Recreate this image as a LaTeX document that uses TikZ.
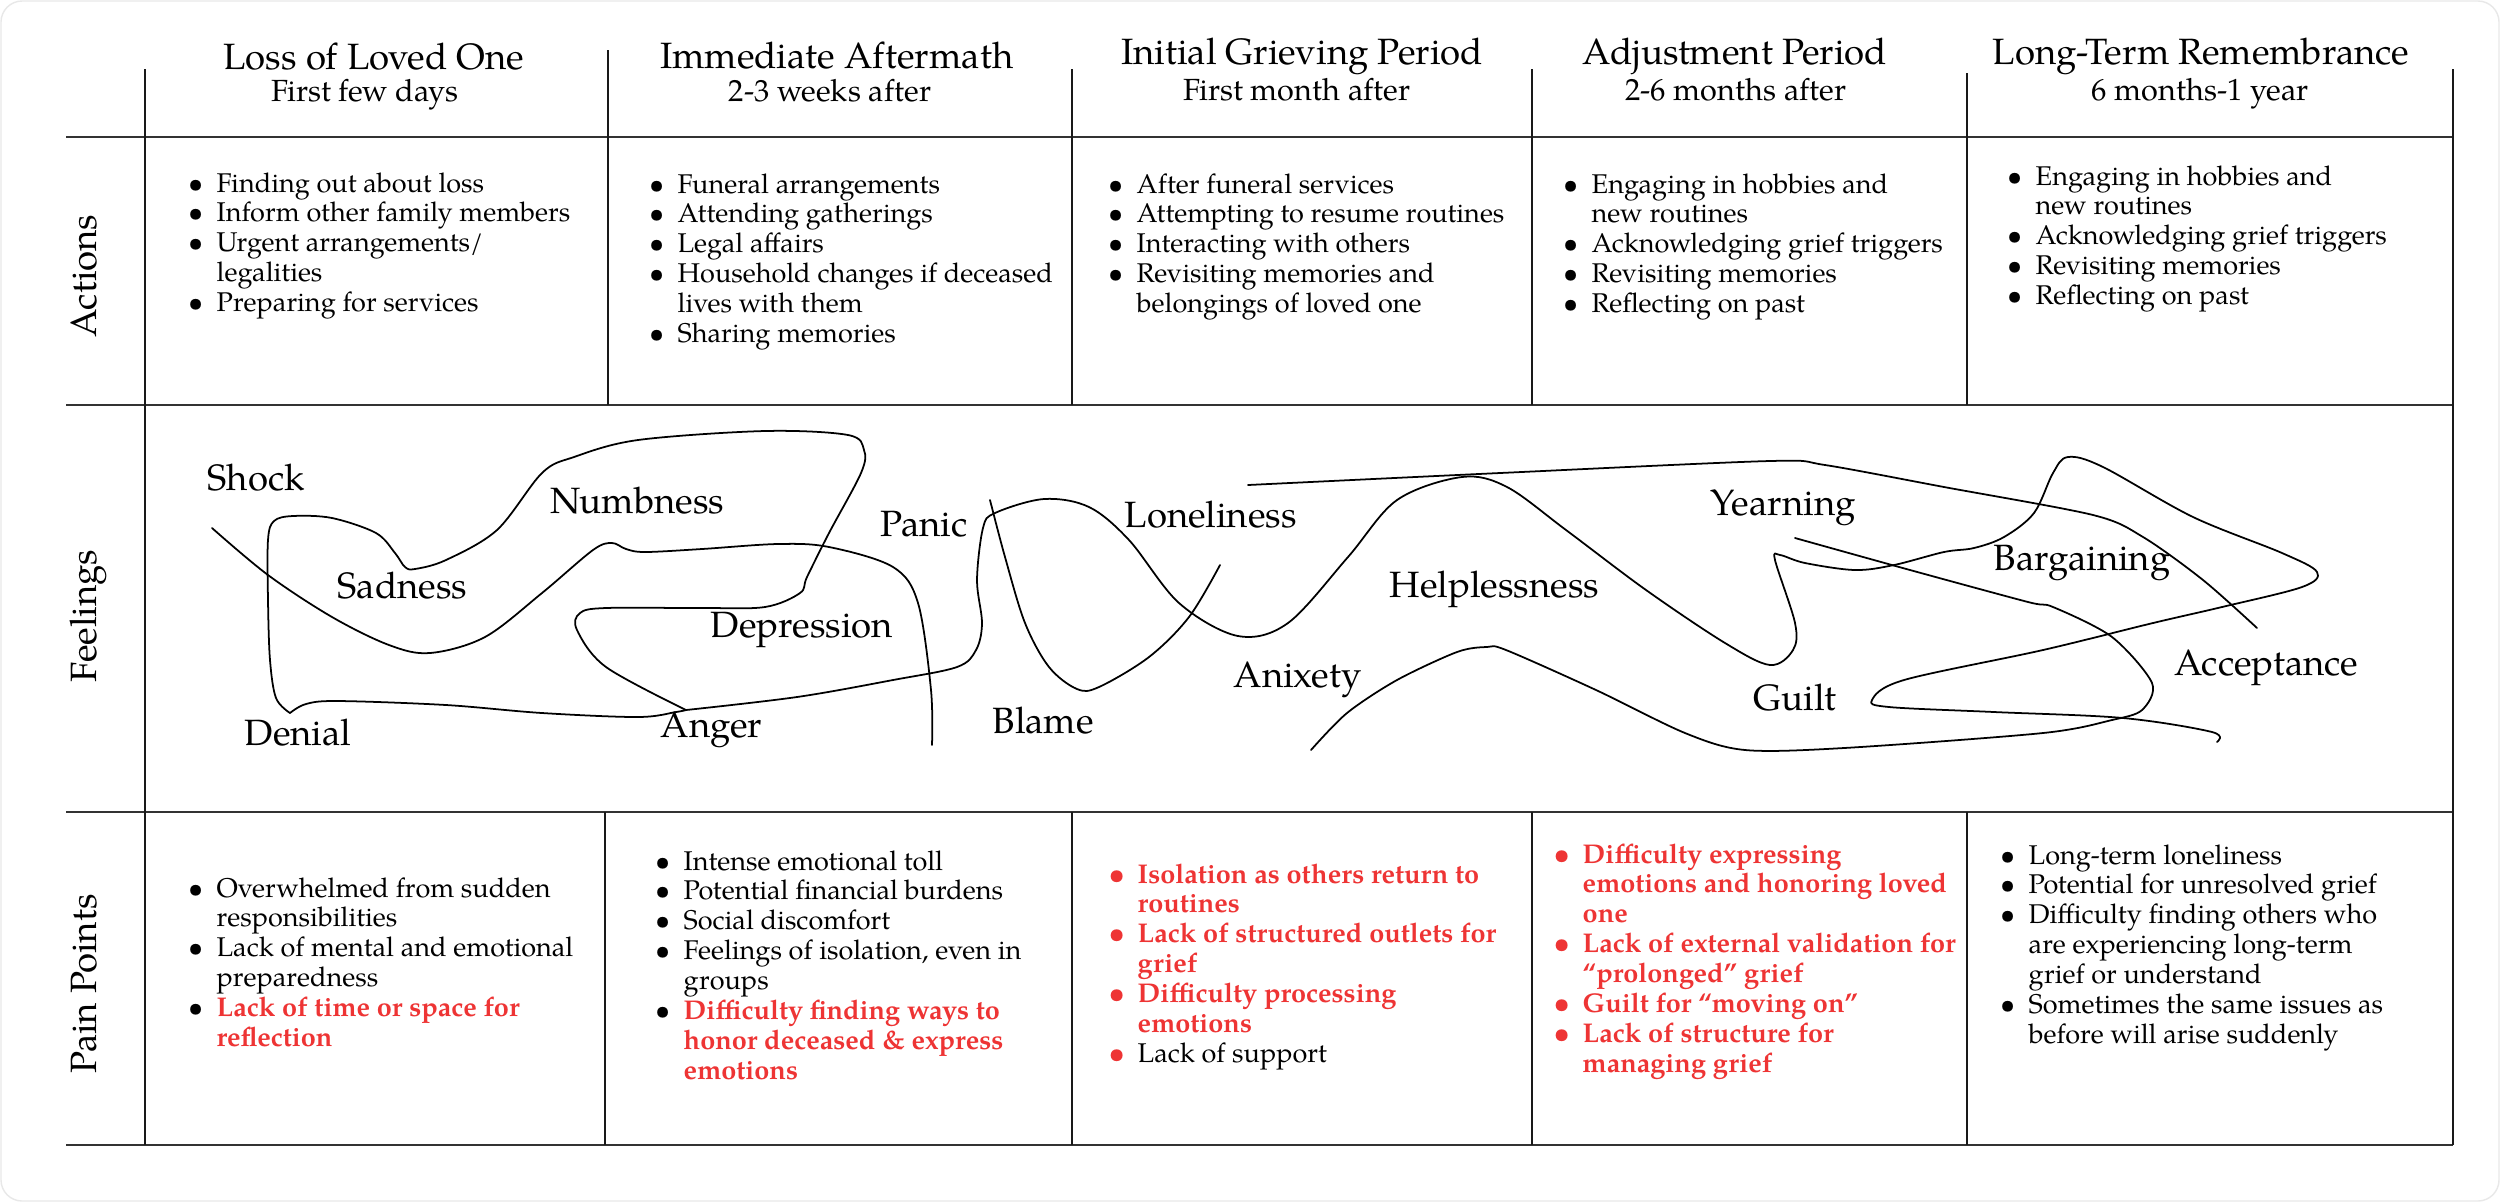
\documentclass[tikz,border=0pt]{standalone}
\usepackage{fontspec}
\setmainfont{texgyrepagella}[Extension=.otf, UprightFont=*-regular, BoldFont=*-bold, ItalicFont=*-italic, BoldItalicFont=*-bolditalic]
\definecolor{painred}{RGB}{238,52,52}
\definecolor{gridc}{RGB}{51,51,51}
\newcommand\bu{\llap{\makebox[0pt][c]{\textbullet}\hspace{5.97pt}}}
\newcommand\rbu{\llap{\makebox[0pt][c]{\textcolor{painred}{\bfseries\textbullet}}\hspace{5.97pt}}}
\newcommand\rd[1]{\textcolor{painred}{\bfseries #1}}
\newcommand\cellt[1]{\begin{tabular}[t]{@{}l@{}}#1\end{tabular}}
\tikzset{
  coltitle/.style={font=\fontsize{10.4}{12}\selectfont, anchor=base, inner sep=0},
  colsub/.style={font=\fontsize{8.7}{10}\selectfont, anchor=base, inner sep=0},
  rowlab/.style={font=\fontsize{10.4}{12}\selectfont, anchor=base, rotate=90, inner sep=0},
  bodytext/.style={font=\fontsize{7.7}{8.5}\selectfont, anchor=base west, inner sep=0},
  feel/.style={font=\fontsize{10.4}{12}\selectfont, anchor=base west, inner sep=0},
  hrule/.style={draw=gridc, line width=0.6pt},
  vrule/.style={draw=black!90, line width=0.5pt},
  curve/.style={draw=black, line width=0.5pt, line join=round, line cap=round},
}
\begin{document}
\begin{tikzpicture}[x=0.01cm,y=-0.01cm]
\useasboundingbox (0,0) rectangle (2500,1202);
\fill[white] (0,0) rectangle (2500,1202);
\draw[gray!18, line width=0.4pt, rounded corners=6pt] (1,1) rectangle (2499,1201);

% grid
\draw[hrule] (66,137) -- (2453,137);
\draw[hrule] (66,405) -- (2453,405);
\draw[hrule] (66,812) -- (2453,812);
\draw[hrule] (66,1145) -- (2453,1145);
\draw[vrule] (145,69) -- (145,1145);
\draw[vrule] (2453,69) -- (2453,1145);
\draw[vrule] (608,50) -- (608,405);
\draw[vrule] (1072,69) -- (1072,405);
\draw[vrule] (1532,69) -- (1532,405);
\draw[vrule] (1967,73) -- (1967,405);
\draw[vrule] (605,812) -- (605,1145);
\draw[vrule] (1072,812) -- (1072,1145);
\draw[vrule] (1532,812) -- (1532,1145);
\draw[vrule] (1967,812) -- (1967,1145);

% headers
\node[coltitle] (t1) at (374,69) {Loss of Loved One};
\node[colsub] (s1) at (365,101) {First few days};
\node[coltitle] (t2) at (837,68) {Immediate Aftermath};
\node[colsub] (s2) at (830,101) {2-3 weeks after};
\node[coltitle] (t3) at (1302,64) {Initial Grieving Period};
\node[colsub] (s3) at (1297,100) {First month after};
\node[coltitle] (t4) at (1735,64) {Adjustment Period};
\node[colsub] (s4) at (1736,100) {2-6 months after};
\node[coltitle] (t5) at (2201,64) {Long-Term Remembrance};
\node[colsub] (s5) at (2200,100) {6 months-1 year};

% row labels
\node[rowlab] (ra) at (97,276) {Actions};
\node[rowlab] (rf) at (96,616) {Feelings};
\node[rowlab] (rp) at (97,984) {Pain Points};

% actions
\node[bodytext] (a1) at (216,192) {\cellt{\bu Finding out about loss\\ \bu Inform other family members\\ \bu Urgent arrangements/\\ legalities\\ \bu Preparing for services}};
\node[bodytext] (a2) at (677,193) {\cellt{\bu Funeral arrangements\\ \bu Attending gatherings\\ \bu Legal affairs\\ \bu Household changes if deceased\\ lives with them\\ \bu Sharing memories}};
\node[bodytext] (a3) at (1136,193) {\cellt{\bu After funeral services\\ \bu Attempting to resume routines\\ \bu Interacting with others\\ \bu Revisiting memories and\\ belongings of loved one}};
\node[bodytext] (a4) at (1591,193) {\cellt{\bu Engaging in hobbies and\\ new routines\\ \bu Acknowledging grief triggers\\ \bu Revisiting memories\\ \bu Reflecting on past}};
\node[bodytext] (a5) at (2035,185) {\cellt{\bu Engaging in hobbies and\\ new routines\\ \bu Acknowledging grief triggers\\ \bu Revisiting memories\\ \bu Reflecting on past}};

% pain points
\node[bodytext] (p1) at (216,897) {\cellt{\bu Overwhelmed from sudden\\ responsibilities\\ \bu Lack of mental and emotional\\ preparedness\\ \bu \rd{Lack of time or space for}\\ \rd{reflection}}};
\node[bodytext] (p2) at (683,870) {\cellt{\bu Intense emotional toll\\ \bu Potential financial burdens\\ \bu Social discomfort\\ \bu Feelings of isolation, even in\\ groups\\ \bu \rd{Difficulty finding ways to}\\ \rd{honor deceased \& express}\\ \rd{emotions}}};
\node[bodytext] (p3) at (1137,883) {\cellt{\rbu \rd{Isolation as others return to}\\ \rd{routines}\\ \rbu \rd{Lack of structured outlets for}\\ \rd{grief}\\ \rbu \rd{Difficulty processing}\\ \rd{emotions}\\ \rbu Lack of support}};
\node[bodytext] (p4) at (1582,863) {\cellt{\rbu \rd{Difficulty expressing}\\ \rd{emotions and honoring loved}\\ \rd{one}\\ \rbu \rd{Lack of external validation for}\\ \rd{“prolonged” grief}\\ \rbu \rd{Guilt for “moving on”}\\ \rbu \rd{Lack of structure for}\\ \rd{managing grief}}};
\node[bodytext] (p5) at (2028,864) {\cellt{\bu Long-term loneliness\\ \bu Potential for unresolved grief\\ \bu Difficulty finding others who\\ are experiencing long-term\\ grief or understand\\ \bu Sometimes the same issues as\\ before will arise suddenly}};

% feelings curves
\draw[curve] plot[smooth, tension=0.55] coordinates {(212,528) (268,575) (332,617) (389,645) (430,653) (485,637) (542,593) (593,550) (612,543) (626,549) (645,552) (702,549) (778,544) (829,547) (893,567) (918,603) (931,690) (932,745)};
\draw[curve] plot[smooth, tension=0.55] coordinates {(686,710) (676,712) (638,717) (542,713) (446,705) (338,701) (306,704) (290,713)};
\draw[curve] plot[smooth, tension=0.55] coordinates {(290,713) (276,698) (270,660) (268,600) (268,540) (274,521) (293,516) (332,518) (376,533) (395,553) (405,567) (415,569) (446,560) (497,530) (542,473) (574,457) (638,440) (765,431) (848,435) (864,450) (861,473) (829,533) (807,577) (800,593) (765,607) (702,608) (606,608) (580,613) (577,630) (606,667) (686,710)};
\draw[curve] plot[smooth, tension=0.55] coordinates {(686,710) (797,697) (893,680) (957,667) (976,650) (982,623) (977,580) (983,528) (995,513) (1044,499) (1089,507) (1129,540) (1179,603) (1238,636) (1288,623) (1348,557) (1397,500) (1462,477) (1507,487) (1566,530) (1646,590) (1725,643) (1770,665) (1793,650) (1795,623) (1775,560) (1780,555) (1805,563) (1855,570) (1894,565) (1944,552) (1974,548) (2004,537) (2034,513) (2053,473) (2068,457) (2103,467) (2193,517) (2282,553) (2317,572) (2302,587) (2222,607) (2153,623) (2043,650) (1904,680) (1872,700) (1889,707) (1994,712) (2123,718) (2212,732) (2217,742)};
\draw[curve] plot[smooth, tension=0.55] coordinates {(990,500) (1005,557) (1025,623) (1049,667) (1077,689) (1099,687) (1149,657) (1189,617) (1220,565)};
\draw[curve] plot[smooth, tension=0.5] coordinates {(1248,485) (1500,473) (1770,461) (1825,465) (1944,487) (2093,515) (2143,537) (2203,580) (2257,628)};
\draw[curve] plot[smooth, tension=0.5] coordinates {(1795,538) (1910,570) (2028,602) (2053,607) (2112,637) (2152,683) (2142,710) (2112,720) (2043,733) (1844,748) (1745,750) (1685,733) (1596,690) (1506,650) (1487,647) (1457,652) (1397,680) (1347,713) (1311,750)};

% feelings words
\node[feel] (f1) at (207,490) {Shock};
\node[feel] (f2) at (550,513) {Numbness};
\node[feel] (f3) at (337,598) {Sadness};
\node[feel] (f4) at (880,536) {Panic};
\node[feel] (f5) at (710,637) {Depression};
\node[feel] (f6) at (244,745) {Denial};
\node[feel] (f7) at (660,737) {Anger};
\node[feel] (f8) at (1124,527) {Loneliness};
\node[feel] (f9) at (992,733) {Blame};
\node[feel] (f10) at (1233,687) {Anixety};
\node[feel] (f11) at (1389,597) {Helplessness};
\node[feel] (f12) at (1710,515) {Yearning};
\node[feel] (f13) at (1993,570) {Bargaining};
\node[feel] (f14) at (1753,710) {Guilt};
\node[feel] (f15) at (2174,675) {Acceptance};
\end{tikzpicture}
\end{document}
